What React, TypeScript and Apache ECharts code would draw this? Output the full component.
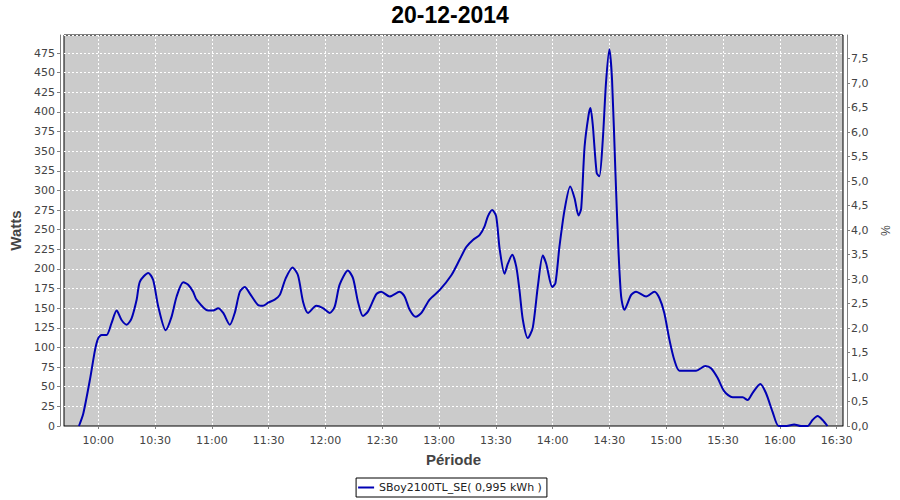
import React, { useEffect, useRef } from "react";
import * as echarts from "echarts";

// minutes after 10:00
const minutesAfterTen = [
  -10.2, -7.9, -4.4, -1.7, 0, 1.8, 4.4, 7, 9.7, 12.3, 15, 17.6, 20.3, 22, 26.4, 29, 31.7, 35.6, 38.7, 41.4,
  44.9, 47.5, 50.1, 51.9, 58, 60.7, 63.3, 66, 69.5, 72.1, 74.8, 77.4, 80, 84.4, 87, 89.7, 93.2, 95.9, 99,
  102.6, 105.5, 108.2, 110.8, 115.2, 118.7, 122.3, 124.9, 127.5, 131.9, 134.6, 137.2, 139.8, 142.5, 146.9,
  149.5, 153.9, 159.2, 161.8, 164.5, 167.7, 170.7, 175, 180.3, 186.5, 190.9, 194.4, 197.9, 201.4, 204,
  205.8, 208.1, 210.2, 212, 214.6, 216.4, 218.7, 220.8, 222.5, 224.3, 226.9, 229.5, 232.2, 234.8, 236.6,
  239.8, 241.5, 243.6, 246.3, 249.3, 251.6, 253.7, 255.1, 256.9, 259, 260, 261.2, 263.3, 264.7, 266.5,
  268.2, 270, 271.4, 273.2, 274.7, 276.2, 277.9, 281.5, 284.1, 289.4, 293.8, 296.4, 299, 301.7, 304.3,
  307, 315.8, 320.7, 323.7, 327.2, 330.7, 335.1, 340.4, 343, 345.6, 349.7, 352.7, 356.2, 359.4, 363.6,
  367.6, 371.2, 374.7, 377.3, 380, 382.6, 385.2,
];

const watts = [
  0, 16, 59, 97, 112, 116, 116, 131, 147, 135, 129, 137, 161, 184, 195, 186, 152, 122, 139, 165,
  183, 180, 171, 161, 147, 147, 150, 144, 129, 144, 171, 177, 169, 154, 153, 157, 161, 167, 188,
  202, 192, 158, 144, 153, 150, 144, 152, 180, 198, 188, 158, 140, 146, 168,
  171, 165, 171, 165, 148, 139, 144, 161, 173, 192, 212, 228, 237, 243, 254,
  267, 275, 267, 226, 194, 207, 218, 203, 173, 135, 112, 125, 178, 217, 207,
  177, 182, 228, 275, 305, 290, 268, 277, 356, 396, 405, 384, 322, 318, 364,
  437, 480, 441, 322, 228, 165, 148, 167, 171, 165, 171, 163, 144, 110, 84,
  70.5, 70.5, 76.5, 73.5, 61, 44, 36.6, 36.6, 33, 42, 53.5, 42, 18, 0, 0,
  2, 0, 0, 7.6, 12.7, 7.6, 0,
];

const xTickLabels = ["10:00", "10:30", "11:00", "11:30", "12:00", "12:30", "13:00", "13:30", "14:00", "14:30", "15:00", "15:30", "16:00", "16:30"];

const seriesName = "SBoy2100TL_SE( 0,995 kWh )";
const chartTitle = "20-12-2014";

const toMin = (s: string) => {
  const [h, m] = s.split(":").map(Number);
  return h * 60 + m;
};
const fmtMin = (v: number) => {
  const h = Math.floor(v / 60);
  const m = Math.round(v - h * 60);
  return `${h}:${m < 10 ? "0" + m : m}`;
};

export default function App() {
  const ref = useRef<HTMLDivElement>(null);
  useEffect(() => {
    if (!ref.current) return;
    const chart = echarts.init(ref.current, undefined, { renderer: "svg" });
    const tickValues = xTickLabels.map(toMin);
    const labelStyle = { color: "#444", fontFamily: "DejaVu Sans", fontSize: 11 };
    const nameStyle = { color: "#444", fontFamily: "Liberation Sans", fontSize: 15, fontWeight: "bold" as const };
    chart.setOption({
      animation: false,
      backgroundColor: "#fff",
      title: {
        text: chartTitle,
        left: "center",
        top: -2,
        textStyle: { fontFamily: "Liberation Sans", fontSize: 23, fontWeight: "bold", color: "#000" },
      },
      grid: {
        left: 64,
        right: 57,
        top: 35,
        bottom: 74,
        show: true,
        backgroundColor: "#cbcbcb",
        borderColor: "#000",
        borderWidth: 1,
      },
      legend: {
        data: [{ name: seriesName, icon: "rect" }],
        left: "center",
        top: 478,
        itemWidth: 16,
        itemHeight: 2,
        itemGap: 4,
        padding: [4, 5, 4, 2],
        borderColor: "#000",
        borderWidth: 1,
        borderRadius: 0,
        itemStyle: { color: "#0000b4" },
        textStyle: { ...labelStyle, color: "#222" },
      },
      xAxis: {
        type: "value",
        min: 581.9,
        max: 993.4,
        offset: 4,
        name: "Période",
        nameLocation: "middle",
        nameGap: 22,
        nameTextStyle: nameStyle,
        axisLine: { show: true, lineStyle: { color: "#808080", width: 1 } },
        axisTick: { show: true, length: 3, lineStyle: { color: "#808080" }, customValues: tickValues },
        axisLabel: { ...labelStyle, margin: 5, customValues: tickValues, formatter: (v: number) => fmtMin(v) },
        splitLine: { show: true, lineStyle: { color: "#ffffff", type: [2, 2], width: 1 } },
      },
      yAxis: [
        {
          type: "value",
          min: 0,
          max: 498,
          interval: 25,
          offset: 4,
          name: "Watts",
          nameLocation: "middle",
          nameGap: 27,
          nameTextStyle: nameStyle,
          axisLine: { show: true, lineStyle: { color: "#808080", width: 1 } },
          axisTick: { show: true, length: 3, lineStyle: { color: "#808080" } },
          axisLabel: { ...labelStyle, margin: 5, showMaxLabel: false },
          splitLine: { show: true, lineStyle: { color: "#ffffff", type: [2, 2], width: 1 } },
        },
        {
          type: "value",
          position: "right",
          min: 0,
          max: 7.98,
          interval: 0.5,
          offset: 4,
          name: "%",
          nameLocation: "middle",
          nameGap: 24,
          nameRotate: -90,
          nameTextStyle: { ...nameStyle, fontWeight: "normal" as const, fontSize: 12 },
          axisLine: { show: true, lineStyle: { color: "#808080", width: 1 } },
          axisTick: { show: true, length: 3, lineStyle: { color: "#808080" } },
          axisLabel: {
            ...labelStyle,
            margin: 4,
            showMaxLabel: false,
            formatter: (v: number) => v.toFixed(1).replace(".", ","),
          },
          splitLine: { show: false },
        },
      ],
      series: [
        {
          name: seriesName,
          type: "line",
          yAxisIndex: 0,
          symbol: "none",
          smooth: 0.25,
          lineStyle: { color: "#0000b4", width: 2 },
          itemStyle: { color: "#0000b4" },
          data: minutesAfterTen.map((t, i) => [600 + t, watts[i]]),
        },
      ],
    });
    return () => chart.dispose();
  }, []);
  return <div ref={ref} style={{ width: 900, height: 500, position: "absolute", left: 0, top: 0 }} />;
}
